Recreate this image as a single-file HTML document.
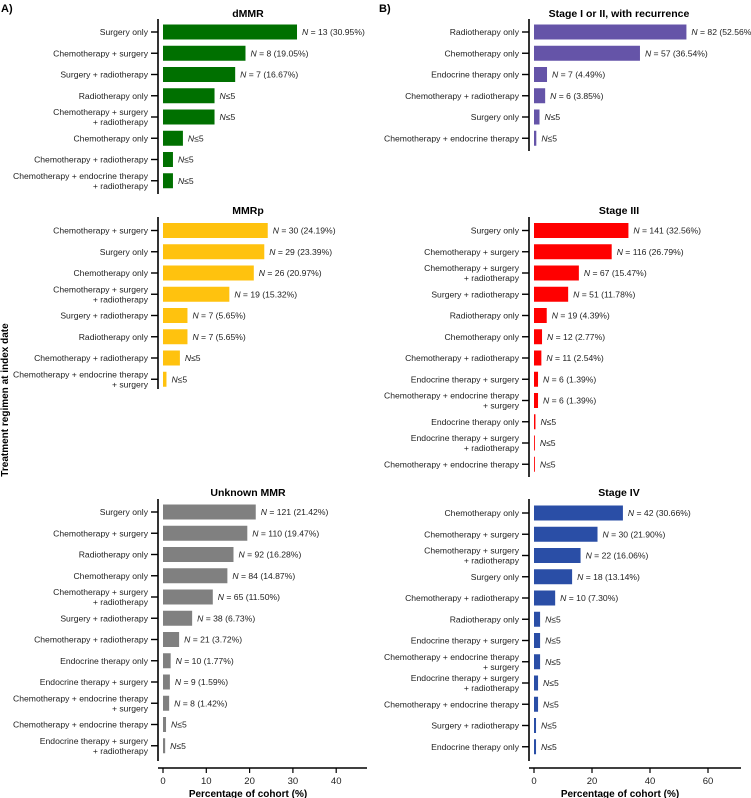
<!DOCTYPE html>
<html><head><meta charset="utf-8">
<style>
html,body{margin:0;padding:0;background:#fff;}
svg{display:block;font-family:"Liberation Sans",Arial,sans-serif;}
</style></head>
<body>
<svg id="chart" width="751" height="798" viewBox="0 0 751 798" xmlns="http://www.w3.org/2000/svg">
<text x="1" y="12" font-size="11" font-weight="bold">A)</text>
<text x="379" y="12" font-size="11" font-weight="bold">B)</text>
<text transform="translate(8,400) rotate(-90)" text-anchor="middle" font-size="10" font-weight="bold">Treatment regimen at index date</text>
</svg>
<script>
// ---- data ----
const dmmrCategories = ["Surgery only","Chemotherapy + surgery","Surgery + radiotherapy","Radiotherapy only","Chemotherapy + surgery|+ radiotherapy","Chemotherapy only","Chemotherapy + radiotherapy","Chemotherapy + endocrine therapy|+ radiotherapy"];
const dmmrValues = [30.95,19.05,16.67,11.9,11.9,4.6,2.3,2.3];
const dmmrLabels = ["N = 13 (30.95%)","N = 8 (19.05%)","N = 7 (16.67%)","N≤5","N≤5","N≤5","N≤5","N≤5"];

const mmrpCategories = ["Chemotherapy + surgery","Surgery only","Chemotherapy only","Chemotherapy + surgery|+ radiotherapy","Surgery + radiotherapy","Radiotherapy only","Chemotherapy + radiotherapy","Chemotherapy + endocrine therapy|+ surgery"];
const mmrpValues = [24.19,23.39,20.97,15.32,5.65,5.65,3.9,0.8];
const mmrpLabels = ["N = 30 (24.19%)","N = 29 (23.39%)","N = 26 (20.97%)","N = 19 (15.32%)","N = 7 (5.65%)","N = 7 (5.65%)","N≤5","N≤5"];

const unkCategories = ["Surgery only","Chemotherapy + surgery","Radiotherapy only","Chemotherapy only","Chemotherapy + surgery|+ radiotherapy","Surgery + radiotherapy","Chemotherapy + radiotherapy","Endocrine therapy only","Endocrine therapy + surgery","Chemotherapy + endocrine therapy|+ surgery","Chemotherapy + endocrine therapy","Endocrine therapy + surgery|+ radiotherapy"];
const unkValues = [21.42,19.47,16.28,14.87,11.50,6.73,3.72,1.77,1.59,1.42,0.7,0.5];
const unkLabels = ["N = 121 (21.42%)","N = 110 (19.47%)","N = 92 (16.28%)","N = 84 (14.87%)","N = 65 (11.50%)","N = 38 (6.73%)","N = 21 (3.72%)","N = 10 (1.77%)","N = 9 (1.59%)","N = 8 (1.42%)","N≤5","N≤5"];

const s12Categories = ["Radiotherapy only","Chemotherapy only","Endocrine therapy only","Chemotherapy + radiotherapy","Surgery only","Chemotherapy + endocrine therapy"];
const s12Values = [52.56,36.54,4.49,3.85,1.9,0.8];
const s12Labels = ["N = 82 (52.56%)","N = 57 (36.54%)","N = 7 (4.49%)","N = 6 (3.85%)","N≤5","N≤5"];

const s3Categories = ["Surgery only","Chemotherapy + surgery","Chemotherapy + surgery|+ radiotherapy","Surgery + radiotherapy","Radiotherapy only","Chemotherapy only","Chemotherapy + radiotherapy","Endocrine therapy + surgery","Chemotherapy + endocrine therapy|+ surgery","Endocrine therapy only","Endocrine therapy + surgery|+ radiotherapy","Chemotherapy + endocrine therapy"];
const s3Values = [32.56,26.79,15.47,11.78,4.39,2.77,2.54,1.39,1.39,0.5,0.3,0.3];
const s3Labels = ["N = 141 (32.56%)","N = 116 (26.79%)","N = 67 (15.47%)","N = 51 (11.78%)","N = 19 (4.39%)","N = 12 (2.77%)","N = 11 (2.54%)","N = 6 (1.39%)","N = 6 (1.39%)","N≤5","N≤5","N≤5"];

const s4Categories = ["Chemotherapy only","Chemotherapy + surgery","Chemotherapy + surgery|+ radiotherapy","Surgery only","Chemotherapy + radiotherapy","Radiotherapy only","Endocrine therapy + surgery","Chemotherapy + endocrine therapy|+ surgery","Endocrine therapy + surgery|+ radiotherapy","Chemotherapy + endocrine therapy","Surgery + radiotherapy","Endocrine therapy only"];
const s4Values = [30.66,21.90,16.06,13.14,7.30,2.1,2.1,2.1,1.4,1.4,0.7,0.7];
const s4Labels = ["N = 42 (30.66%)","N = 30 (21.90%)","N = 22 (16.06%)","N = 18 (13.14%)","N = 10 (7.30%)","N≤5","N≤5","N≤5","N≤5","N≤5","N≤5","N≤5"];

const leftTicks = [0,10,20,30,40];
const rightTicks = [0,20,40,60];

// ---- drawing ----
const svg = document.getElementById('chart');
const NS = 'http://www.w3.org/2000/svg';
function mk(tag, attrs, parent){ const e=document.createElementNS(NS,tag); for(const k in attrs) e.setAttribute(k,attrs[k]); (parent||svg).appendChild(e); return e; }

const leftScale = v => 163 + v*4.33;
const rightScale = v => 534 + v*2.9;
const ROW = 21.25;
const FS = '8.6';

function panel(opt){
  const g = mk('g',{});
  
  
  const t = mk('text',{x:opt.titleX,y:opt.titleY+4,'text-anchor':'middle','font-size':'10.5','font-weight':'bold'},g);
  t.textContent = opt.title;
  
  
  const sp = mk('line',{x1:opt.spineX,x2:opt.spineX,y1:opt.spineTop,y2:opt.spineBottom,stroke:'#000','stroke-width':'1.6'},g);
  
  
  opt.cats.forEach((c,i)=>{
    const y = opt.firstY + i*ROW;
    const tk = mk('line',{x1:opt.spineX-7,x2:opt.spineX,y1:y,y2:y,stroke:'#000','stroke-width':'1.4'},g);
    
    
    const lines = c.split('|');
    const lab = mk('text',{x:opt.spineX-10,'text-anchor':'end','font-size':FS,fill:'#222'},g);
    
    
    lines.forEach((ln,j)=>{
      const ts = mk('tspan',{x:opt.spineX-10,y: y+3 + (j - (lines.length-1)/2)*10},lab);
      ts.textContent = ln;
    });
    const x0 = opt.scale(0), x1 = opt.scale(opt.vals[i]);
    const b = mk('rect',{x:x0,y:y-7.5,width:Math.max(x1-x0,0.8),height:15,fill:opt.color},g);
    
    
    const vl = mk('text',{x:x1+5,y:y+3,'font-size':FS,fill:'#222'},g);
    
    
    const s = opt.labels[i];
    const it = mk('tspan',{'font-style':'italic'},vl); it.textContent='N';
    const rest = mk('tspan',{},vl); rest.textContent = s.slice(1);
  });
  return g;
}

function xAxis(opt){
  const g = mk('g',{});
  
  
  mk('line',{x1:opt.x1,x2:opt.x2,y1:768,y2:768,stroke:'#000','stroke-width':'1.4'},g);
  opt.ticks.forEach(t=>{
    const x = opt.scale(t);
    const l = mk('line',{x1:x,x2:x,y1:768,y2:773,stroke:'#000','stroke-width':'1.2'},g);
    
    
    const tx = mk('text',{x:x,y:784,'text-anchor':'middle','font-size':'9.5',fill:'#222'},g);
    tx.textContent = t;
    
    
  });
  const ti = mk('text',{x:opt.titleX,y:797,'text-anchor':'middle','font-size':'10','font-weight':'bold'},g);
  ti.textContent = 'Percentage of cohort (%)';
  
  
}

panel({name:'dmmr-panel',title:'dMMR',titleX:248,titleY:13,spineX:158,spineTop:19,spineBottom:194,firstY:32,cats:dmmrCategories,vals:dmmrValues,labels:dmmrLabels,color:'#007000',scale:leftScale});
panel({name:'mmrp-panel',title:'MMRp',titleX:248,titleY:210,spineX:158,spineTop:217,spineBottom:389,firstY:230.5,cats:mmrpCategories,vals:mmrpValues,labels:mmrpLabels,color:'#FFC20E',scale:leftScale});
panel({name:'unknown-mmr-panel',title:'Unknown MMR',titleX:248,titleY:492,spineX:158,spineTop:499,spineBottom:761,firstY:512,cats:unkCategories,vals:unkValues,labels:unkLabels,color:'#808080',scale:leftScale});
panel({name:'stage-1-2-panel',title:'Stage I or II, with recurrence',titleX:619,titleY:13,spineX:529,spineTop:19,spineBottom:151,firstY:32,cats:s12Categories,vals:s12Values,labels:s12Labels,color:'#6554A8',scale:rightScale});
panel({name:'stage-3-panel',title:'Stage III',titleX:619,titleY:210,spineX:529,spineTop:217,spineBottom:477,firstY:230.5,cats:s3Categories,vals:s3Values,labels:s3Labels,color:'#FF0000',scale:rightScale});
panel({name:'stage-4-panel',title:'Stage IV',titleX:619,titleY:492,spineX:529,spineTop:499,spineBottom:761,firstY:513,cats:s4Categories,vals:s4Values,labels:s4Labels,color:'#2A4EA6',scale:rightScale});

xAxis({name:'left-x-axis',x1:158,x2:367,ticks:leftTicks,scale:leftScale,titleX:248});
xAxis({name:'right-x-axis',x1:529,x2:741,ticks:rightTicks,scale:rightScale,titleX:620});
</script>
</body></html>
